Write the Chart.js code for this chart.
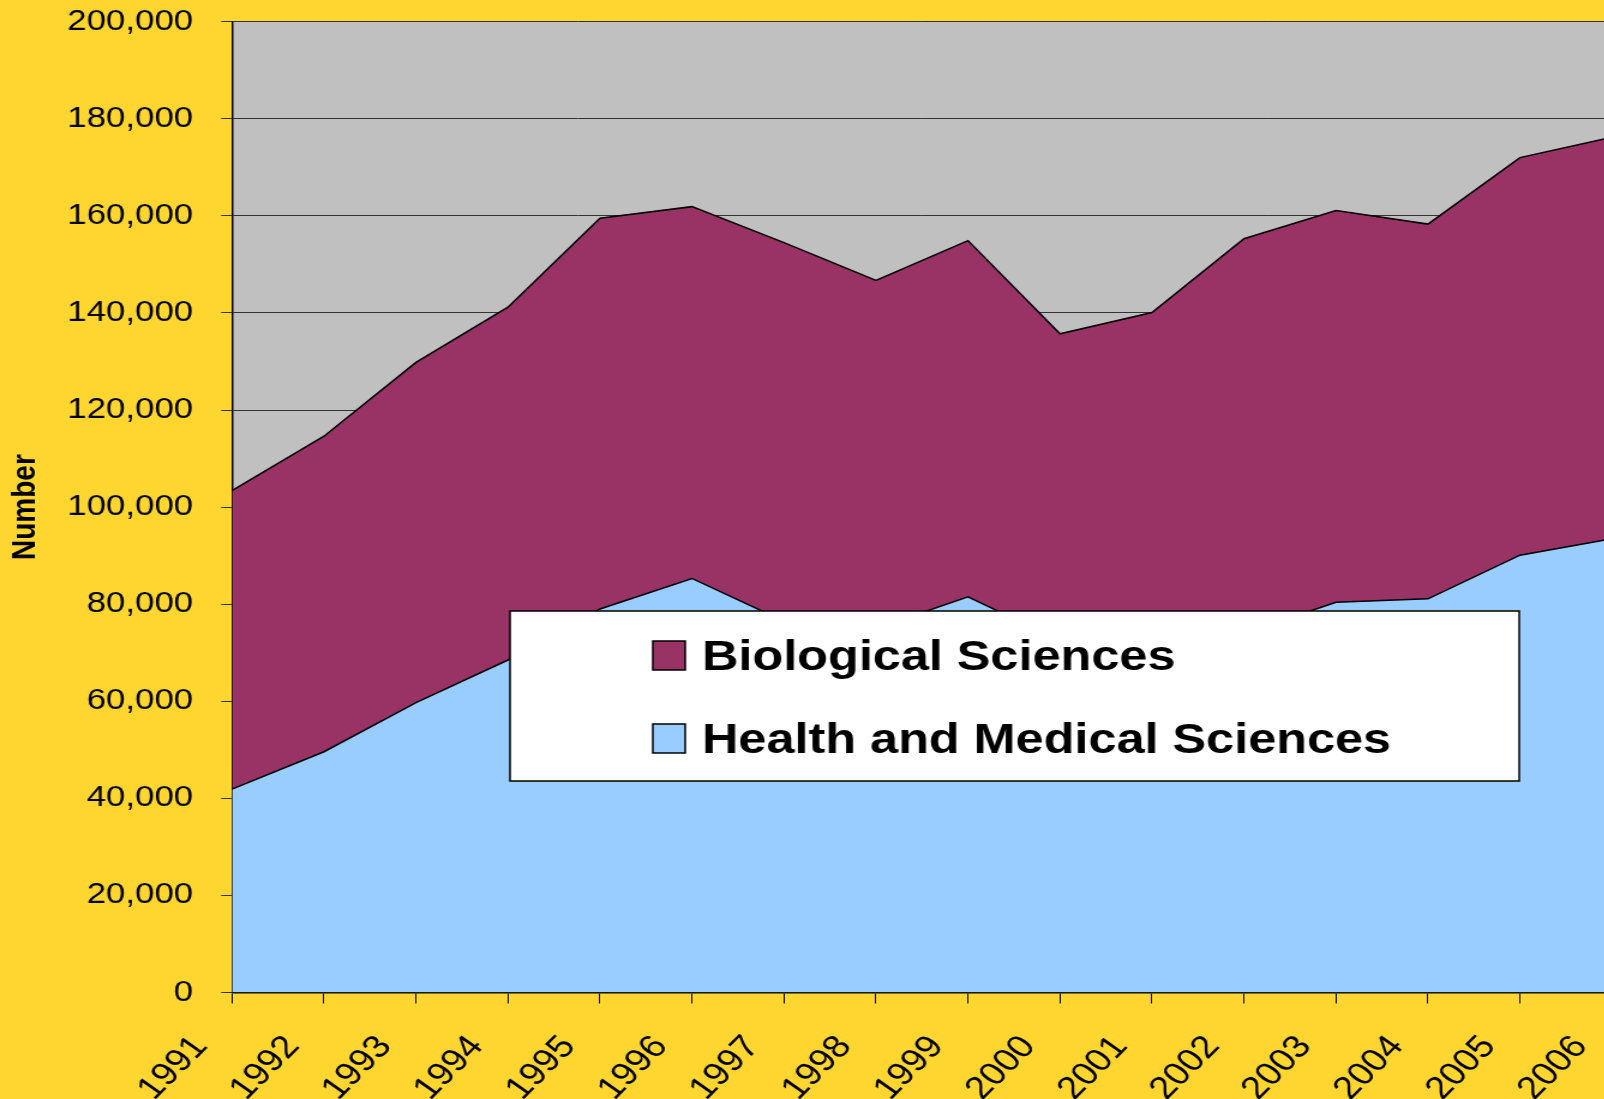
<!DOCTYPE html>
<html>
<head>
<meta charset="utf-8">
<script src="https://cdn.jsdelivr.net/npm/chart.js@4.4.1/dist/chart.umd.min.js"></script>
<style>
    html, body {
        margin: 0;
        padding: 0;
        width: 1604px;
        height: 1099px;
        overflow: hidden;
        background: #FFD630;
    }
    /* the original picture is stretched sideways, so the whole chart is too */
    #wrap {
        width: 1370px;
        height: 1099px;
        transform: scaleX(1.2);
        transform-origin: 0 0;
    }
</style>
</head>
<body>
<div id="wrap">
    <canvas id="chart" width="1370" height="1099"></canvas>
</div>
<script>
/**
 * Biological vs. health and medical sciences, stacked area, 1991-2006.
 */
const years = ['1991', '1992', '1993', '1994', '1995', '1996', '1997', '1998',
    '1999', '2000', '2001', '2002', '2003', '2004', '2005', '2006'];
const healthMedical = [41900, 49600, 59700, 68500, 79000, 85300, 76500, 75000,
    81500, 72500, 73000, 74000, 80400, 81100, 90100, 93500];
const biological = [61500, 65000, 70100, 72700, 80500, 76600, 78000, 71700,
    73400, 63200, 67100, 81300, 80700, 77200, 81900, 82700];
const yTicks = [0, 20000, 40000, 60000, 80000, 100000, 120000, 140000, 160000, 180000, 200000];

const FONT = "'Liberation Sans', Arial, sans-serif";

// grey plot background behind the areas
const plotBackground = {
    id: 'plotBackground',
    beforeDraw(chart) {
        const { ctx, chartArea: a } = chart;
        ctx.save();
        ctx.fillStyle = '#C0C0C0';
        ctx.fillRect(a.left, a.top, a.right - a.left, a.bottom - a.top);
        ctx.restore();
    }
};

// boxed legend sitting over the plot, Biological first
const boxLegend = {
    id: 'boxLegend',
    afterDraw(chart, args, opts) {
        const { ctx } = chart;
        ctx.save();
        ctx.fillStyle = '#fff';
        ctx.strokeStyle = '#000';
        ctx.lineWidth = 1.5;
        ctx.fillRect(opts.x, opts.y, opts.w, opts.h);
        ctx.strokeRect(opts.x, opts.y, opts.w, opts.h);

        const items = chart.data.datasets.slice().reverse();
        ctx.font = `bold ${opts.fontSize}px ${FONT}`;
        ctx.textBaseline = 'alphabetic';
        ctx.textAlign = 'left';
        items.forEach((ds, i) => {
            const base = opts.firstBaseline + i * opts.rowGap;
            ctx.fillStyle = ds.backgroundColor;
            ctx.fillRect(opts.swatchX, base - opts.swatchH, opts.swatchW, opts.swatchH);
            ctx.strokeRect(opts.swatchX, base - opts.swatchH, opts.swatchW, opts.swatchH);
            ctx.fillStyle = '#000';
            ctx.fillText(ds.label, opts.textX, base);
        });
        ctx.restore();
    }
};

new Chart(document.getElementById('chart'), {
    type: 'line',
    data: {
        labels: years,
        datasets: [
            {
                label: 'Health and Medical Sciences',
                data: healthMedical,
                backgroundColor: '#99CCFF',
                borderColor: '#000',
                borderWidth: 1.5,
                fill: 'origin',
                pointRadius: 0,
                tension: 0
            },
            {
                label: 'Biological Sciences',
                data: biological,
                backgroundColor: '#993366',
                borderColor: '#000',
                borderWidth: 1.5,
                fill: '-1',
                pointRadius: 0,
                tension: 0
            }
        ]
    },
    options: {
        responsive: false,
        animation: false,
        layout: {
            padding: { left: 0, top: 21.7, right: 26.7, bottom: 0 }
        },
        plugins: {
            legend: { display: false },
            tooltip: { enabled: false },
            boxLegend: {
                x: 425, y: 611, w: 841, h: 170,
                swatchX: 544, swatchW: 27, swatchH: 29,
                textX: 585, firstBaseline: 670, rowGap: 83,
                fontSize: 42
            }
        },
        scales: {
            x: {
                offset: false,
                grid: {
                    drawOnChartArea: false,
                    drawTicks: true,
                    tickLength: 11,
                    color: '#000'
                },
                border: { color: '#000', width: 1.5 },
                ticks: {
                    autoSkip: false,
                    minRotation: 50,
                    maxRotation: 50,
                    padding: 25,
                    labelOffset: -26,
                    color: '#000',
                    font: { family: FONT, size: 32 }
                },
                afterFit(scale) {
                    scale.height = 106.5;
                    scale.paddingLeft = 0;
                    scale.paddingRight = 0;
                }
            },
            y: {
                stacked: true,
                min: 0,
                max: 200000,
                afterBuildTicks(scale) {
                    scale.ticks = yTicks.map(v => ({ value: v }));
                },
                grid: {
                    color: '#333',
                    lineWidth: 1,
                    tickLength: 9
                },
                border: { color: '#000', width: 1.5 },
                ticks: {
                    padding: 23.4,
                    color: '#000',
                    font: { family: FONT, size: 29 },
                    callback: v => v.toLocaleString('en-US')
                },
                title: {
                    display: true,
                    text: 'Number',
                    color: '#000',
                    padding: { top: 4, bottom: 0 },
                    font: { family: FONT, size: 28, weight: 'bold' }
                },
                afterFit(scale) {
                    scale.width = 193.3;
                    scale.paddingTop = 0;
                    scale.paddingBottom = 0;
                }
            }
        }
    },
    plugins: [plotBackground, boxLegend]
});
</script>
</body>
</html>
